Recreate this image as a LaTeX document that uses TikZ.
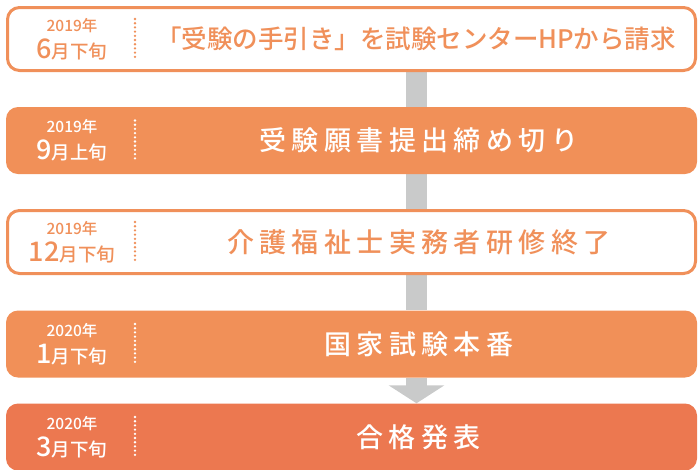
\documentclass[tikz,border=0pt]{standalone}
\usepackage{fontspec}
\setmainfont{Noto Sans CJK JP}[UprightFont=* Medium]
\newfontfamily\jpwide{Noto Sans CJK JP}[UprightFont=* Medium, LetterSpace=20]
\usetikzlibrary{arrows.meta,backgrounds}

\definecolor{lineorange}{HTML}{F0905A}
\definecolor{boxorange}{HTML}{F19058}
\definecolor{lastorange}{HTML}{EC7850}
\definecolor{bargray}{HTML}{C9CACA}

\begin{document}
\begin{tikzpicture}[x=1pt, y=-1pt]
        \tikzstyle{open}=[rectangle, rounded corners=12pt, draw=lineorange, line width=3pt, fill=white, minimum width=688pt, minimum height=63pt, inner sep=0pt]
        \tikzstyle{full}=[rectangle, rounded corners=12pt, fill=boxorange, minimum width=691pt, minimum height=67pt, inner sep=0pt]
        \tikzstyle{yr}=[inner sep=0pt, font=\fontsize{15.5}{15.5}\selectfont]
        \tikzstyle{mo}=[inner sep=0pt, font=\fontsize{18.5}{18.5}\selectfont]
        \tikzstyle{big}=[inner sep=0pt, font=\fontsize{25.5}{25.5}\selectfont]
        \tikzstyle{wide}=[inner sep=0pt, xshift=2.7pt, text=white, font=\jpwide\fontsize{27}{27}\selectfont]
        \tikzstyle{sep}=[line width=2.6pt, line cap=round, dash pattern=on 0pt off 4.2pt]
        \tikzstyle{bar}=[draw=bargray, line width=21pt]

        \useasboundingbox (0,0) rectangle (698,469);
        \clip (0,0) rectangle (698,469);

        % Boxes
        \node[open] (b1) at (351.5,39) {};
        \node[full] (b2) at (351.5,140.5) {};
        \node[open] (b3) at (351.5,242) {};
        \node[full] (b4) at (351.5,344) {};
        \node[full, fill=lastorange] (b5) at (351.5,437) {};

        % Grey line behind the boxes
        \coordinate (sp) at (416.5,0);
        \begin{scope}[on background layer]
            \draw[bar] (b1.south -| sp) -- (b2.north -| sp);
            \draw[bar] (b2.south -| sp) -- (b3.north -| sp);
            \draw[bar] (b3.south -| sp) -- (b4.north -| sp);
            \draw[bar, -{Triangle[width=55pt, length=18pt]}]
                (b4.south -| sp) -- (b5.north -| sp);
        \end{scope}

        % Dates
        \node[yr, text=lineorange] (y1) at (72,26) {2019年};
        \node[mo, text=lineorange, anchor=base] (m1) at (72,58) {{\fontsize{27}{27}\selectfont 6}月下旬};
        \node[yr, text=white] (y2) at (72,127) {2019年};
        \node[mo, text=white, anchor=base] (m2) at (72,159) {{\fontsize{27}{27}\selectfont 9}月上旬};
        \node[yr, text=lineorange] (y3) at (72,229) {2019年};
        \node[mo, text=lineorange, anchor=base] (m3) at (72,261) {{\fontsize{27}{27}\selectfont 12}月下旬};
        \node[yr, text=white] (y4) at (72,331) {2020年};
        \node[mo, text=white, anchor=base] (m4) at (72,363) {{\fontsize{27}{27}\selectfont 1}月下旬};
        \node[yr, text=white] (y5) at (72,424) {2020年};
        \node[mo, text=white, anchor=base] (m5) at (72,456) {{\fontsize{27}{27}\selectfont 3}月下旬};

        % Dotted separators
        \draw[sep, lineorange] (135,19) -- (135,60);
        \draw[sep, white] (135,120.5) -- (135,161.5);
        \draw[sep, lineorange] (135,222) -- (135,263);
        \draw[sep, white] (135,324) -- (135,365);
        \draw[sep, white] (135,417) -- (135,458);

        % Steps
        \node[big, text=lineorange] (t1) at (416,39) {「受験の手引き」を試験センターHPから請求};
        \node[wide] (t2) at (416,140.5) {受験願書提出締め切り};
        \node[wide, text=lineorange] (t3) at (416,242) {介護福祉士実務者研修終了};
        \node[wide] (t4) at (416,344) {国家試験本番};
        \node[wide] (t5) at (416,437) {合格発表};
\end{tikzpicture}
\end{document}
